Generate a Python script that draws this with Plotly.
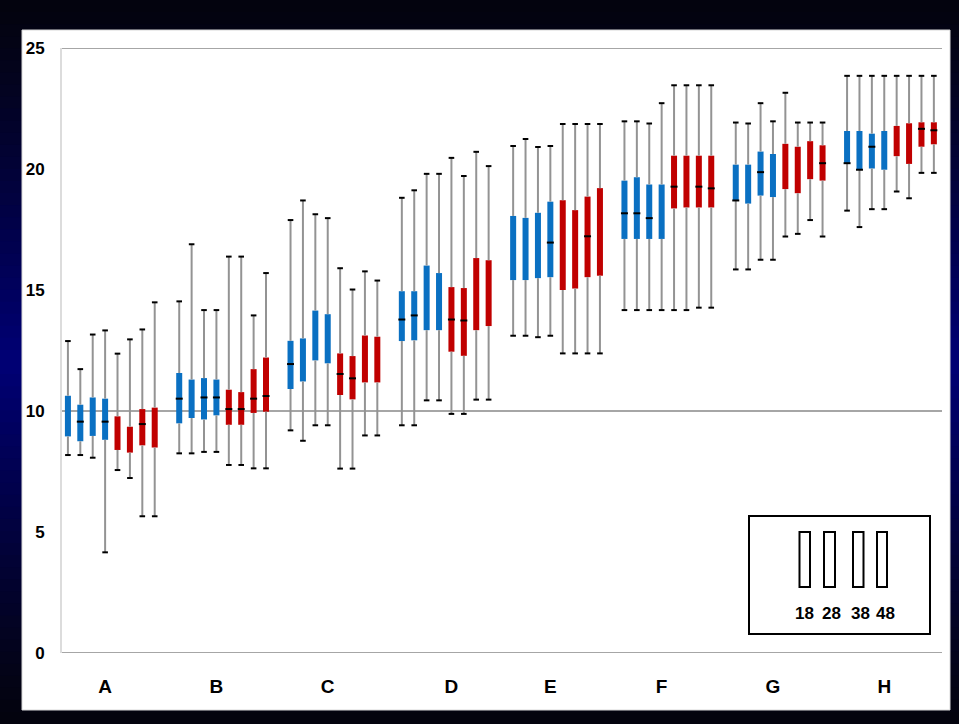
import plotly.graph_objects as go

# ---------------- data ----------------
CATEGORIES = ["A", "B", "C", "D", "E", "F", "G", "H"]
LEGEND_LABELS = ["18", "28", "38", "48"]
# each group has 8 boxes: 4 blue then 4 red
BOX_COLORS = ["#0a70c2"] * 4 + ["#c00000"] * 4

HIGH = [
    [12.89, 11.73, 13.16, 13.33, 12.37, 12.96, 13.37, 14.49],
    [14.53, 16.89, 14.17, 14.17, 16.38, 16.38, 13.95, 15.70],
    [17.89, 18.70, 18.13, 17.97, 15.90, 15.02, 15.77, 15.39],
    [18.81, 19.12, 19.80, 19.80, 20.46, 19.71, 20.71, 20.12],
    [20.95, 21.24, 20.91, 20.95, 21.86, 21.86, 21.86, 21.86],
    [21.97, 21.97, 21.88, 22.72, 23.46, 23.46, 23.46, 23.46],
    [21.92, 21.88, 22.72, 21.97, 23.15, 21.92, 21.92, 21.92],
    [23.85, 23.85, 23.85, 23.85, 23.85, 23.85, 23.85, 23.85],
]
Q3 = [
    [10.63, 10.26, 10.56, 10.51, 9.78, 9.35, 10.08, 10.14],
    [11.57, 11.30, 11.36, 11.30, 10.88, 10.78, 11.73, 12.21],
    [12.90, 13.00, 14.15, 14.00, 12.38, 12.27, 13.12, 13.07],
    [14.95, 14.95, 16.01, 15.70, 15.12, 15.08, 16.32, 16.23],
    [18.06, 17.98, 18.19, 18.65, 18.71, 18.30, 18.86, 19.21],
    [19.52, 19.66, 19.36, 19.36, 20.55, 20.55, 20.55, 20.55],
    [20.18, 20.18, 20.72, 20.62, 21.04, 20.92, 21.15, 20.98],
    [21.57, 21.57, 21.46, 21.57, 21.78, 21.89, 21.93, 21.93],
]
MEDIAN = [
    [None, 9.56, None, 9.56, None, None, 9.46, None],
    [10.51, None, 10.56, 10.56, 10.08, 10.08, 10.51, 10.62],
    [11.94, None, None, None, 11.53, 11.35, None, None],
    [13.78, 13.95, None, None, 13.78, 13.74, None, None],
    [None, None, None, 16.96, None, None, 17.22, None],
    [18.17, 18.17, 17.97, None, 19.27, None, 19.27, 19.20],
    [18.70, None, 19.87, None, None, None, None, 20.24],
    [20.24, 19.97, 20.92, None, None, None, 21.66, 21.60],
]
Q1 = [
    [8.95, 8.75, 8.97, 8.81, 8.39, 8.28, 8.58, 8.49],
    [9.49, 9.71, 9.65, 9.82, 9.43, 9.43, 9.92, 9.97],
    [10.91, 11.22, 12.09, 11.97, 10.66, 10.48, 11.18, 11.18],
    [12.89, 12.92, 13.34, 13.34, 12.45, 12.28, 13.34, 13.51],
    [15.41, 15.41, 15.49, 15.53, 15.00, 15.06, 15.53, 15.59],
    [17.11, 17.11, 17.11, 17.11, 18.37, 18.41, 18.41, 18.41],
    [18.70, 18.57, 18.90, 18.84, 19.17, 19.00, 19.58, 19.52],
    [20.24, 19.97, 20.02, 19.97, 20.53, 20.21, 20.92, 21.02],
]
LOW = [
    [8.18, 8.18, 8.07, 4.16, 7.56, 7.23, 5.65, 5.65],
    [8.25, 8.25, 8.31, 8.31, 7.77, 7.77, 7.63, 7.63],
    [9.20, 8.77, 9.41, 9.41, 7.62, 7.62, 8.99, 8.99],
    [9.41, 9.41, 10.44, 10.44, 9.88, 9.88, 10.47, 10.47],
    [13.11, 13.11, 13.05, 13.11, 12.38, 12.38, 12.38, 12.38],
    [14.17, 14.17, 14.17, 14.17, 14.17, 14.17, 14.27, 14.27],
    [15.85, 15.85, 16.25, 16.25, 17.21, 17.32, 17.89, 17.21],
    [18.28, 17.60, 18.34, 18.34, 19.07, 18.79, 19.84, 19.84],
]
Y_TICKS = [0, 5, 10, 15, 20, 25]
GRID_VALUES = [0, 10, 25]

# ---------------- layout helpers ----------------
W, H = 959, 724
ML, MR, MT, MB = 62, 17, 48, 71
PW, PH = W - ML - MR, H - MT - MB
STEP = 0.1114          # distance between boxes inside a group (x units)
BOX_W = 0.054
LABEL_SLOT = [3, 3, 3, 4, 3, 3, 3, 3]


def px(xp):
    return (xp - ML) / PW


def py(yp):
    return (H - MB - yp) / PH


def pos(g, k):
    return g + (k - 3.5) * STEP


fig = go.Figure()

# whiskers (two segments so they never cross the box)
wx, wy = [], []
for g in range(len(CATEGORIES)):
    for k in range(8):
        x = pos(g, k)
        wx += [x, x, None, x, x, None]
        wy += [LOW[g][k], Q1[g][k], None, Q3[g][k], HIGH[g][k], None]
fig.add_trace(go.Scatter(x=wx, y=wy, mode="lines",
                         line=dict(color="#939393", width=2),
                         hoverinfo="skip", showlegend=False))

# boxes
bx, bbase, bh, bcol = [], [], [], []
for g in range(len(CATEGORIES)):
    for k in range(8):
        bx.append(pos(g, k))
        bbase.append(Q1[g][k])
        bh.append(Q3[g][k] - Q1[g][k])
        bcol.append(BOX_COLORS[k])
fig.add_trace(go.Bar(x=bx, y=bh, base=bbase, width=BOX_W,
                     marker=dict(color=bcol, line=dict(width=0)),
                     showlegend=False))

# whisker caps
cx, cy = [], []
for g in range(len(CATEGORIES)):
    for k in range(8):
        cx += [pos(g, k), pos(g, k)]
        cy += [LOW[g][k], HIGH[g][k]]
fig.add_trace(go.Scatter(x=cx, y=cy, mode="markers",
                         marker=dict(symbol="line-ew", size=4,
                                     line=dict(color="black", width=2)),
                         hoverinfo="skip", showlegend=False))

# medians
mx, my = [], []
for g in range(len(CATEGORIES)):
    for k in range(8):
        if MEDIAN[g][k] is not None:
            mx.append(pos(g, k))
            my.append(MEDIAN[g][k])
fig.add_trace(go.Scatter(x=mx, y=my, mode="markers",
                         marker=dict(symbol="line-ew", size=5,
                                     line=dict(color="black", width=2)),
                         hoverinfo="skip", showlegend=False))

# ---------------- frame / background ----------------
shapes = []
NB = 60
for i in range(NB):
    t = (i + 0.5) / NB
    f = 1 - abs(t - 0.5) * 2          # 0 at edges, 1 at middle
    f = f ** 1.2
    r = int(4 * (1 - f))
    gcol = int(4 * (1 - f))
    b = int(14 + (118 - 14) * f)
    y0 = H * i / NB
    y1 = H * (i + 1) / NB + 1
    shapes.append(dict(type="rect", xref="paper", yref="paper",
                       x0=px(0), x1=px(W), y0=py(y1), y1=py(y0),
                       fillcolor=f"rgb({r},{gcol},{b})", line=dict(width=0),
                       layer="below"))
shapes.append(dict(type="rect", xref="paper", yref="paper",
                   x0=px(22), x1=px(950), y0=py(710), y1=py(30),
                   fillcolor="white", line=dict(color="#d8d8d8", width=1),
                   layer="below"))
for v in GRID_VALUES:
    shapes.append(dict(type="line", xref="paper", yref="y",
                       x0=0, x1=1, y0=v, y1=v,
                       line=dict(color="#a6a6a6", width=2), layer="below"))

# legend key
shapes.append(dict(type="rect", xref="paper", yref="paper",
                   x0=px(749), x1=px(930), y0=py(634), y1=py(516),
                   fillcolor="white", line=dict(color="black", width=2)))
KEY_X = [(799.5, 810), (824, 835), (853, 863.5), (877, 887)]
TEXT_X = [804, 831, 860, 885]
annotations = []
for (x0, x1), tx, lab in zip(KEY_X, TEXT_X, LEGEND_LABELS):
    shapes.append(dict(type="rect", xref="paper", yref="paper",
                       x0=px(x0), x1=px(x1), y0=py(587), y1=py(532),
                       fillcolor="white", line=dict(color="black", width=2)))
    annotations.append(dict(xref="paper", yref="paper", x=px(tx), y=py(613),
                            text=lab, showarrow=False, xanchor="center",
                            yanchor="middle",
                            font=dict(family="Liberation Sans, Arial, sans-serif",
                                      size=17, color="black", weight="bold")))

tickvals = [pos(g, LABEL_SLOT[g]) for g in range(len(CATEGORIES))]
narrow = "Liberation Sans Narrow, Arial Narrow, Liberation Sans, Arial, sans-serif"

fig.update_layout(
    width=W, height=H,
    margin=dict(l=ML, r=MR, t=MT, b=MB, pad=0),
    paper_bgcolor="#000030",
    plot_bgcolor="rgba(0,0,0,0)",
    barmode="overlay",
    showlegend=False,
    shapes=shapes,
    annotations=annotations,
    xaxis=dict(range=[-0.443, 7.463], tickvals=tickvals, ticktext=CATEGORIES,
               showgrid=False, zeroline=False, showline=False, ticks="",
               ticklabelstandoff=20,
               tickfont=dict(family=narrow, size=19, color="black", weight="bold")),
    yaxis=dict(range=[0, 25], tickvals=Y_TICKS, showgrid=False, zeroline=False,
               showline=True, linecolor="#dcdcdc", linewidth=2, ticks="",
               ticklabelstandoff=12,
               tickfont=dict(family=narrow, size=17, color="black", weight="bold")),
)

fig.write_html(
    "out.html",
    config={"displayModeBar": False},
    post_script="document.body.style.margin='0';document.body.style.overflow='hidden';",
)
